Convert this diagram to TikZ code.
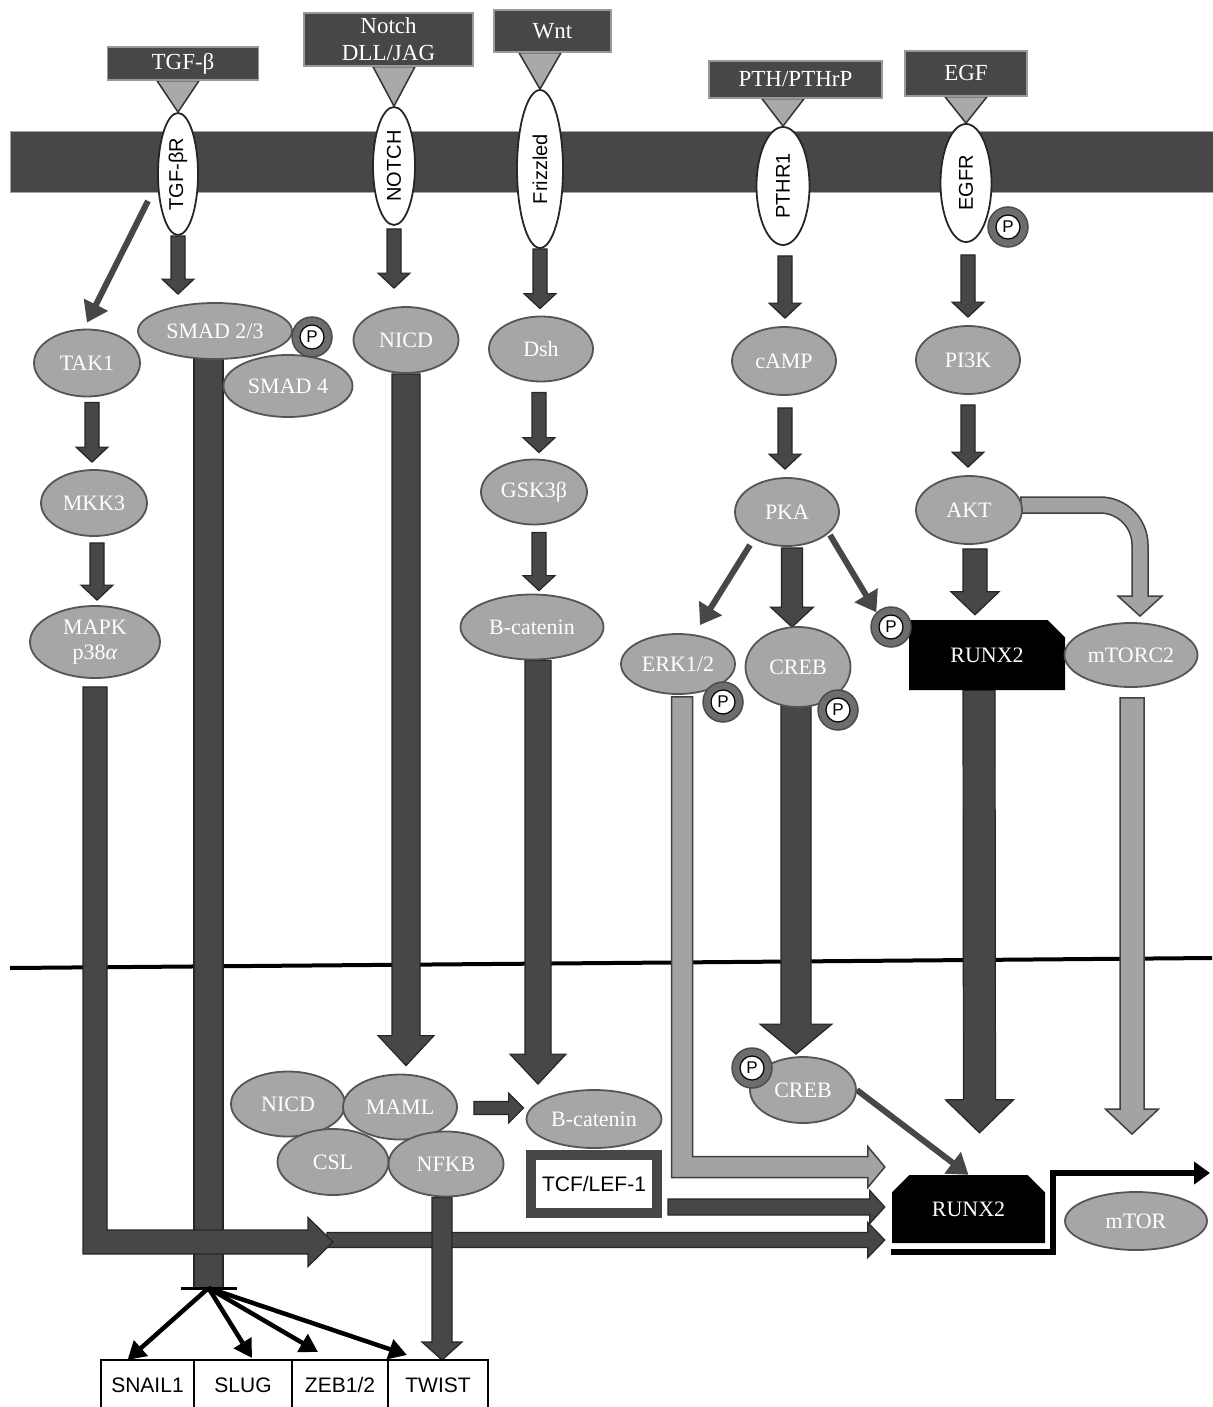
\documentclass[tikz,border=0pt]{standalone}
\usepackage{fontspec}
\setmainfont{Liberation Serif}
\setsansfont{Liberation Sans}
\usetikzlibrary{arrows.meta,positioning,calc,shapes.geometric,shapes.misc}

\definecolor{membrane}{HTML}{474747}
\definecolor{protein}{HTML}{A6A6A6}
\definecolor{rim}{HTML}{555555}
\definecolor{arrowlight}{HTML}{A3A3A3}
\definecolor{phosring}{HTML}{6D6D6D}
\definecolor{ligtri}{HTML}{A9A9A9}

\newcommand\ligfont{\fontsize{23}{27}\selectfont}
\newcommand\protfont{\fontsize{22}{25}\selectfont}
\newcommand\recfont{\sffamily\fontsize{20}{22}\selectfont}
\newcommand\genefont{\sffamily\fontsize{21}{23}\selectfont}

\pgfdeclarelayer{back}
\pgfdeclarelayer{arrows}
\pgfsetlayers{back,arrows,main}

% straight block arrow: [style]{from}{tip}{shaft}{head}{head length}
\newcommand\blockarrow[6][]{%
  \path (#2) coordinate (ba-s) (#3) coordinate (ba-e);%
  \pgfpointdiff{\pgfpointanchor{ba-s}{center}}{\pgfpointanchor{ba-e}{center}}%
  \pgfgetlastxy{\bax}{\bay}%
  \pgfmathsetmacro\baang{atan2(\bay,\bax)}%
  \pgfmathsetmacro\balen{veclen(\bax,\bay)}%
  \begin{scope}[shift={(ba-s)},rotate=\baang,x=1pt,y=1pt]
    \draw[#1] (0,-#4/2) -- (\balen-#6,-#4/2) -- (\balen-#6,-#5/2) -- (\balen,0)
      -- (\balen-#6,#5/2) -- (\balen-#6,#4/2) -- (0,#4/2) -- cycle;
  \end{scope}}
% block arrow going down, then right: [style]{from}{tip}{half shaft}{half head}{head length}
\newcommand\elbowarrow[6][]{%
  \draw[#1] let \p1=(#2), \p2=(#3) in
    (\x1-#4pt,\y1) -- (\x1-#4pt,\y2-#4pt) -- (\x2-#6pt,\y2-#4pt) -- (\x2-#6pt,\y2-#5pt)
    -- (\x2,\y2) -- (\x2-#6pt,\y2+#5pt) -- (\x2-#6pt,\y2+#4pt) -- (\x1+#4pt,\y2+#4pt)
    -- (\x1+#4pt,\y1) -- cycle;}

\begin{document}
\begin{tikzpicture}[x=1pt,y=-1pt]
  \tikzset{
    ligand/.style={rectangle, fill=membrane, draw=black!40, line width=1.5pt, text=white,
      font=\ligfont, inner sep=0pt, align=center},
    tri/.style={fill=ligtri, draw=black!80, line width=1.5pt},
    receptor/.style={ellipse, fill=white, draw=black!85, line width=1.8pt, font=\recfont,
      inner sep=0pt, rotate=90},
    prot/.style={ellipse, fill=protein, draw=rim, line width=1.8pt, text=white,
      font=\protfont, inner sep=0pt, align=center},
    phos/.style={circle, fill=phosring, draw=black!70, line width=1.5pt, minimum size=40pt,
      inner sep=0pt, label={[pcore]center:P}},
    pcore/.style={circle, fill=white, draw=black, line width=1.2pt, minimum size=24pt,
      inner sep=0pt, font=\sffamily\fontsize{17}{17}\selectfont},
    runx/.style={chamfered rectangle, chamfered rectangle xsep=10pt,
      chamfered rectangle ysep=10pt, fill=black, text=white, font=\protfont, inner sep=0pt},
    gene/.style={rectangle, draw=black, line width=2pt, fill=white, font=\genefont,
      inner sep=0pt, outer sep=0pt, minimum height=50pt},
    tcfbox/.style={rectangle, draw=membrane, line width=10pt, fill=white, font=\genefont,
      inner sep=0pt, minimum width=126pt, minimum height=58pt},
    darkblk/.style={fill=membrane, draw=black!85, line width=1.2pt},
    lightblk/.style={fill=arrowlight, draw=black!75, line width=1.5pt},
    thinarr/.style={draw=membrane, line width=6pt, -{Triangle[width=26pt,length=20pt]}},
    genearr/.style={draw=black, line width=4.5pt, -{Triangle[width=20pt,length=18pt]}}
  }
  \useasboundingbox (0,0) rectangle (1212,1407);

  % Membranes
  \begin{pgfonlayer}{back}
    \fill[membrane, draw=black!35, line width=1pt] (10,132) rectangle (1215,193);
    \draw[line width=4pt] (10,968) -- (1212,958);
  \end{pgfonlayer}

  % Ligands
  \node[ligand, minimum width=151pt, minimum height=33pt] (tgfb) at (183,63.5) {TGF-β};
  \node[ligand, minimum width=169pt, minimum height=53pt] (notch-lig) at (388.5,39.5) {Notch\\DLL/JAG};
  \node[ligand, minimum width=117pt, minimum height=42pt] (wnt) at (552.5,31) {Wnt};
  \node[ligand, minimum width=173pt, minimum height=37pt] (pth) at (795.5,79.5) {PTH/PTHrP};
  \node[ligand, minimum width=122pt, minimum height=45pt] (egf) at (966,73.5) {EGF};

  % Receptors
  \node[receptor, minimum width=122pt, minimum height=40pt] (tgfbr) at (178,174) {TGF-βR};
  \node[receptor, minimum width=118pt, minimum height=42pt] (notch) at (394,166) {NOTCH};
  \node[receptor, minimum width=158pt, minimum height=46pt] (fzd) at (540,169) {Frizzled};
  \node[receptor, minimum width=118pt, minimum height=53pt] (pthr1) at (783,186) {PTHR1};
  \node[receptor, minimum width=118pt, minimum height=51pt] (egfr) at (966,183) {EGFR};
  \node[phos] (p-egfr) at (1008,227) {};

  \begin{pgfonlayer}{arrows}
    \foreach \lig/\rec in {tgfb/tgfbr, notch-lig/notch, wnt/fzd, pth/pthr1, egf/egfr}
      \filldraw[tri] ($(\lig.south -| \rec.center)+(-21,0)$) -- ($(\lig.south -| \rec.center)+(21,0)$)
        -- (\rec.east) -- cycle;
  \end{pgfonlayer}

  % Cytoplasm
  \node[prot, minimum width=106pt, minimum height=67pt] (tak1) at (87,363) {TAK1};
  \node[prot, minimum width=106pt, minimum height=66pt] (mkk3) at (94,503) {MKK3};
  \node[prot, minimum width=130pt, minimum height=72pt] (mapk) at (95,642) {MAPK\\p38\textit{α}};
  \node[prot, minimum width=154pt, minimum height=56pt] (smad23) at (215,331) {SMAD 2/3};
  \node[prot, minimum width=129pt, minimum height=62pt] (smad4) at (288,386) {SMAD 4};
  \node[phos] (p-smad) at (312,337) {};
  \node[prot, minimum width=105pt, minimum height=66pt] (nicd) at (406,340) {NICD};
  \node[prot, minimum width=104pt, minimum height=65pt] (dsh) at (541,349) {Dsh};
  \node[prot, minimum width=106pt, minimum height=65pt] (gsk3b) at (534,492) {GSK3β};
  \node[prot, minimum width=143pt, minimum height=65pt] (bcat) at (532,627) {B-catenin};
  \node[prot, minimum width=104pt, minimum height=68pt] (camp) at (784,361) {cAMP};
  \node[prot, minimum width=104pt, minimum height=68pt] (pka) at (787,512) {PKA};
  \node[prot, minimum width=104pt, minimum height=68pt] (pi3k) at (968,360) {PI3K};
  \node[prot, minimum width=106pt, minimum height=68pt] (akt) at (969,510) {AKT};
  \node[prot, minimum width=114pt, minimum height=60pt] (erk) at (678,664) {ERK1/2};
  \node[prot, minimum width=105pt, minimum height=80pt] (creb) at (798,667) {CREB};
  \node[runx, chamfered rectangle corners=north east, minimum width=156pt, minimum height=70pt] (runx2a) at (987,655) {RUNX2};
  \node[prot, minimum width=133pt, minimum height=64pt] (mtorc2) at (1131,655) {mTORC2};
  \node[phos] (p-erk) at (723,702) {};
  \node[phos] (p-creb) at (838,710) {};
  \node[phos] (p-runx) at (891,627) {};

  % Nucleus
  \node[prot, minimum width=114pt, minimum height=65pt] (nicd2) at (288,1104) {NICD};
  \node[prot, minimum width=114pt, minimum height=65pt] (maml) at (400,1107) {MAML};
  \node[prot, minimum width=111pt, minimum height=66pt] (csl) at (333,1162) {CSL};
  \node[prot, minimum width=115pt, minimum height=65pt] (nfkb) at (446,1164) {NFKB};
  \node[prot, minimum width=135pt, minimum height=58pt] (bcat2) at (594,1119) {B-catenin};
  \node[tcfbox] (tcf) at (594,1184) {TCF/LEF-1};
  \node[prot, minimum width=106pt, minimum height=66pt] (crebn) at (803,1090) {CREB};
  \node[phos] (p-crebn) at (752,1068) {};
  \node[runx, chamfered rectangle corners={north east,north west}, minimum width=153pt, minimum height=68pt] (runx2b) at (968.5,1209) {RUNX2};
  \node[prot, minimum width=142pt, minimum height=58pt] (mtor) at (1136,1221) {mTOR};
  \coordinate (mapk-tip) at (333,1242);
  \coordinate (smad-stop) at (208.5,1288);
  \coordinate (tx-out) at (1210,1173);

  % Target genes
  \node[gene, minimum width=93pt] (snail1) at (147.5,1385) {SNAIL1};
  \node[gene, minimum width=98pt, right=0pt of snail1] (slug) {SLUG};
  \node[gene, minimum width=96pt, right=0pt of slug] (zeb) {ZEB1/2};
  \node[gene, minimum width=100pt, right=0pt of zeb] (twist) {TWIST};

  \begin{pgfonlayer}{arrows}
    % Receptors to first messengers
    \blockarrow[darkblk]{tgfbr.west}{$(smad23.north -| tgfbr.west)+(0,-8)$}{14}{32}{15}
    \blockarrow[darkblk]{$(notch.west)+(0,3)$}{$(nicd.north -| notch.west)+(0,-18)$}{14}{32}{15}
    \blockarrow[darkblk]{fzd.west}{$(dsh.north -| fzd.west)+(0,-7)$}{14}{32}{15}
    \blockarrow[darkblk]{$(pthr1.west)+(2,10)$}{$(camp.north -| pthr1.west)+(2,-8)$}{14}{32}{15}
    \blockarrow[darkblk]{$(egfr.west)+(2,12)$}{$(pi3k.north -| egfr.west)+(2,-8)$}{14}{32}{15}
    \draw[thinarr] ($(tgfbr.west)+(-30,-35)$) -- ($(tak1.north)+(0,-6)$);
    % Cascades
    \blockarrow[darkblk]{$(tak1.south)+(5,5)$}{$(tak1.south |- mkk3.north)+(5,-7)$}{14}{32}{15}
    \blockarrow[darkblk]{$(mkk3.south)+(3,6)$}{$(mkk3.south |- mapk.north)+(3,-5)$}{14}{32}{15}
    \blockarrow[darkblk]{$(dsh.south)+(-2,10)$}{$(dsh.south |- gsk3b.north)+(-2,-6)$}{14}{32}{15}
    \blockarrow[darkblk]{$(gsk3b.south)+(5,7)$}{$(gsk3b.south |- bcat.north)+(5,-3)$}{14}{32}{15}
    \blockarrow[darkblk]{$(camp.south)+(1,12)$}{$(camp.south |- pka.north)+(1,-8)$}{14}{32}{15}
    \blockarrow[darkblk]{$(pi3k.south)+(0,10)$}{$(pi3k.south |- akt.north)+(0,-8)$}{14}{32}{15}
    \blockarrow[darkblk]{$(pka.south)+(5,1)$}{$(pka.south |- creb.north)+(5,1)$}{21}{43}{20}
    \blockarrow[darkblk]{$(akt.south)+(6,4)$}{$(akt.south |- runx2a.north)+(6,-5)$}{24}{48}{23}
    \draw[thinarr] ($(pka.center)+(-37,33)$) -- ($(erk.north)+(22,-8)$);
    \draw[thinarr] ($(pka.center)+(43,23)$) -- (p-runx.north west);
    % AKT to mTORC2
    \coordinate (akt-out) at ($(akt.east)+(-2,-5)$);
    \coordinate (mtorc2-in) at ($(mtorc2.north)+(9,-6)$);
    \draw[lightblk] let \p1=(akt-out), \p2=(mtorc2-in) in
      (\x1,\y1+8pt) -- (\x2-40pt,\y1+8pt) arc[start angle=90, end angle=0, radius=48pt]
      -- (\x2+8pt,\y2+20pt) -- (\x2+22pt,\y2+20pt) -- (\x2,\y2) -- (\x2-22pt,\y2+20pt)
      -- (\x2-8pt,\y2+20pt) -- (\x2-8pt,\y1-40pt) arc[start angle=0, end angle=90, radius=32pt]
      -- (\x1,\y1-8pt) -- cycle;
    % Into the nucleus
    \blockarrow[darkblk]{nicd.south}{$(maml.north -| nicd.south)+(0,-8)$}{28}{56}{30}
    \blockarrow[darkblk]{$(bcat.south)+(6,0)$}{$(bcat2.north -| bcat.south)+(6,-5)$}{26}{56}{30}
    \blockarrow[darkblk]{$(creb.south)+(-2,-4)$}{$(crebn.north -| creb.south)+(-2,-2)$}{30}{72}{30}
    \blockarrow[darkblk]{$(runx2a.south)+(-8,0)$}{$(runx2b.north)+(11,-42)$}{32}{68}{33}
    \blockarrow[lightblk]{$(mtorc2.south)+(1,10)$}{$(mtor.north -| mtorc2.south)+(1,-57)$}{24}{53}{25}
    \elbowarrow[lightblk]{$(erk.south)+(4,2)$}{$(runx2b.west)+(-7,-42)$}{10.5}{20.5}{17}
    % Nuclear targets
    \blockarrow[darkblk]{$(maml.east)+(16,1)$}{$(bcat2.west)+(-2,-11)$}{13}{30}{15}
    \draw[thinarr] (crebn.east) -- (runx2b.north);
    \blockarrow[darkblk]{$(tcf.east)+(6,23)$}{$(runx2b.west)+(-7,-2)$}{16}{33}{15}
    \blockarrow[darkblk]{$(mapk-tip)+(-6,-2)$}{$(runx2b.west)+(-7,31)$}{15}{35}{17}
    \draw[darkblk] ($(smad23.south)+(-21,-2)$) rectangle ($(smad-stop)+(14.5,0)$);
    \draw[line width=3pt] ($(smad-stop)+(-28,0)$) -- ($(smad-stop)+(28,0)$);
    \elbowarrow[darkblk]{$(mapk.south)+(0,8)$}{mapk-tip}{12}{24.5}{25}
    \blockarrow[darkblk]{$(nfkb.south)+(-4,0)$}{$(twist.north -| nfkb.south)+(-4,0)$}{20}{40}{18}
    \draw[line width=6pt, line join=miter, -{Triangle[width=22pt,length=16pt]}]
      ($(runx2b.south west)+(-1,9)$) -| ($(runx2b.east |- tx-out)+(8,0)$) -- (tx-out);
    \foreach \g/\dx/\dy in {snail1/-20/0, slug/9/-2, zeb/-22/-8, twist/-31/-5}
      \draw[genearr] (smad-stop) -- ($(\g.north)+(\dx,\dy)$);
  \end{pgfonlayer}
\end{tikzpicture}
\end{document}
